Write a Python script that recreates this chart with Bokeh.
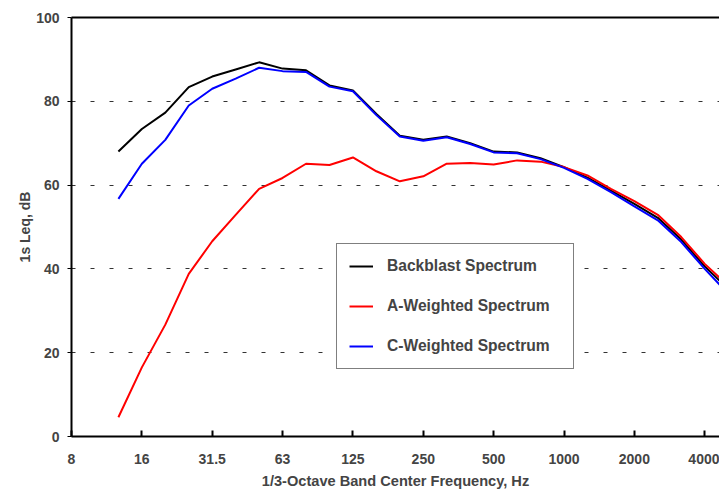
from bokeh.plotting import figure
from bokeh.models import Range1d, FixedTicker, LinearAxis, Legend, LegendItem
from bokeh.embed import file_html
from bokeh.resources import INLINE

# 1/3-octave band centre frequencies (Hz)
bands = ["12.5", "16", "20", "25", "31.5", "40", "50", "63", "80", "100", "125",
         "160", "200", "250", "315", "400", "500", "630", "800", "1000", "1250",
         "1600", "2000", "2500", "3150", "4000", "5000"]
backblast = [68.0, 73.4, 77.3, 83.4, 85.9, 87.6, 89.3, 87.8, 87.4, 83.8, 82.6,
             77.0, 71.8, 70.8, 71.6, 70.0, 68.0, 67.8, 66.4, 64.3, 61.8,
             58.7, 55.5, 52.2, 47.0, 40.6, 35.2]
a_weighted = [4.6, 16.5, 26.7, 38.8, 46.6, 52.9, 59.1, 61.7, 65.1, 64.8, 66.6,
              63.3, 60.9, 62.1, 65.1, 65.3, 64.9, 65.9, 65.6, 64.3, 62.3,
              59.1, 56.2, 52.9, 47.6, 41.2, 36.0]
c_weighted = [56.7, 65.1, 70.8, 79.0, 83.0, 85.4, 88.0, 87.2, 87.0, 83.5, 82.4,
              76.7, 71.6, 70.6, 71.4, 69.8, 67.8, 67.6, 66.2, 64.1, 61.5,
              58.3, 54.9, 51.6, 46.4, 40.0, 34.1]
tick_labels = ["8", "16", "31.5", "63", "125", "250", "500", "1000", "2000", "4000"]
y_ticks = [0, 20, 40, 60, 80, 100]

# position = number of 1/3-octave bands above 8 Hz
x_pos = list(range(2, 2 + len(bands)))
tick_pos = [3 * i for i in range(len(tick_labels))]

FONT = "Liberation Sans"

p = figure(width=719, height=491, output_backend="svg", toolbar_location=None,
           x_range=Range1d(0, 27.63), y_range=Range1d(0, 100),
           min_border_left=71, min_border_right=0, min_border_top=17,
           min_border_bottom=55, background_fill_color="white",
           border_fill_color="white")
p.outline_line_color = None

r_b = p.line(x_pos, backblast, line_color="black", line_width=2)
r_a = p.line(x_pos, a_weighted, line_color="#ff0000", line_width=2)
r_c = p.line(x_pos, c_weighted, line_color="#0000ff", line_width=2)

# x axis
xa = p.xaxis[0]
xa.ticker = FixedTicker(ticks=tick_pos)
xa.major_label_overrides = {t: l for t, l in zip(tick_pos, tick_labels)}
xa.minor_tick_line_color = None
xa.major_tick_in = 6
xa.major_tick_out = 0
xa.major_tick_line_width = 2
xa.axis_line_width = 2
xa.axis_line_color = "black"
xa.major_label_standoff = 17
xa.major_label_text_font = FONT
xa.major_label_text_font_style = "bold"
xa.major_label_text_font_size = "14px"
xa.axis_label = "1/3-Octave Band Center Frequency, Hz"
xa.axis_label_text_font = FONT
xa.axis_label_text_font_style = "bold"
xa.axis_label_text_font_size = "14.6px"
xa.axis_label_standoff = 6

# y axis
ya = p.yaxis[0]
ya.ticker = FixedTicker(ticks=y_ticks)
ya.minor_tick_line_color = None
ya.major_tick_in = 0
ya.major_tick_out = 4
ya.major_tick_line_width = 1
ya.axis_line_width = 2
ya.axis_line_color = "black"
ya.major_label_standoff = 8
ya.major_label_text_font = FONT
ya.major_label_text_font_style = "bold"
ya.major_label_text_font_size = "14px"
ya.axis_label = "1s Leq, dB"
ya.axis_label_text_font = FONT
ya.axis_label_text_font_style = "bold"
ya.axis_label_text_font_size = "14px"
ya.axis_label_standoff = 0

# top frame line
top = LinearAxis(ticker=FixedTicker(ticks=[]), axis_line_width=2, axis_line_color="black",
                 major_tick_line_color=None, minor_tick_line_color=None,
                 major_label_text_font_size="0px", major_label_standoff=0)
p.add_layout(top, "above")

p.xgrid.grid_line_color = None
p.ygrid.ticker = FixedTicker(ticks=[20, 40, 60, 80])
p.ygrid.grid_line_color = "#333333"
p.ygrid.grid_line_dash = "4 15"
p.ygrid.grid_line_width = 1

legend = Legend(items=[LegendItem(label="Backblast Spectrum", renderers=[r_b]),
                       LegendItem(label="A-Weighted Spectrum", renderers=[r_a]),
                       LegendItem(label="C-Weighted Spectrum", renderers=[r_c])],
                location=(265, 67), margin=0, padding=12, spacing=20,
                glyph_height=20, glyph_width=24, label_height=20,
                label_width=174, label_standoff=14,
                label_text_font=FONT, label_text_font_style="bold",
                label_text_font_size="15.6px",
                border_line_color="black", border_line_width=1,
                background_fill_color="white", background_fill_alpha=1)
p.add_layout(legend)

open("out.html", "w").write(file_html(p, INLINE))
